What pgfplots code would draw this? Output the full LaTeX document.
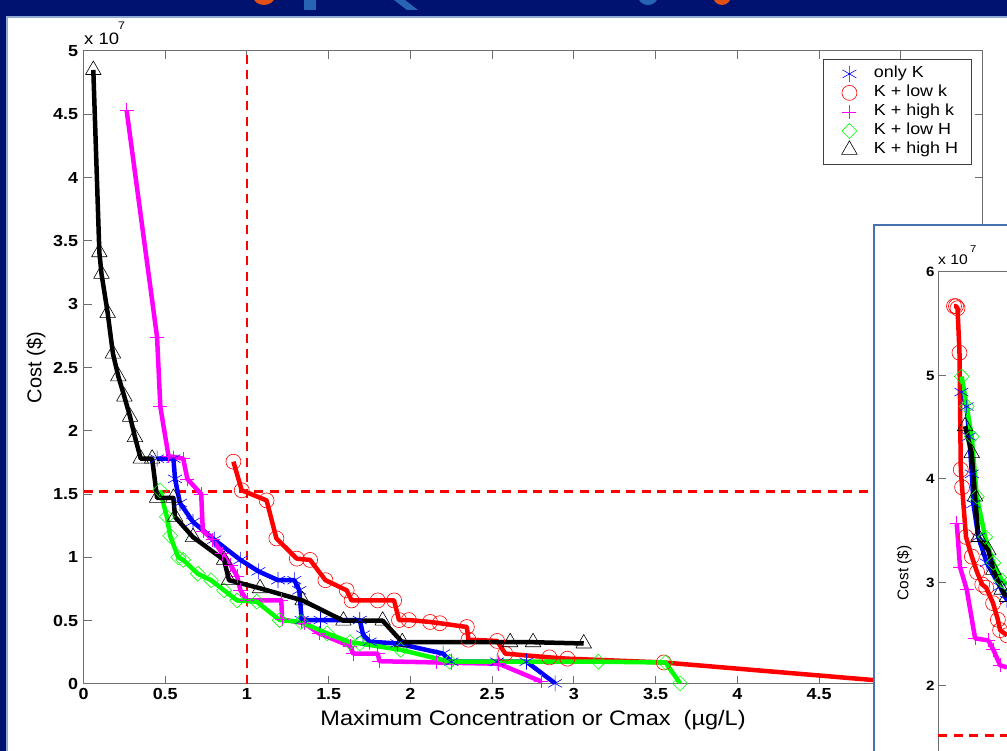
\documentclass[border=0pt]{standalone}
\usepackage{pgfplots}
\usepackage{pgfplotstable}
\pgfplotsset{compat=1.18}
\usepackage{fontspec}
\setmainfont{Liberation Sans}[FakeStretch=1.12]
\newfontfamily\plainsans{Liberation Sans}
\definecolor{navy}{RGB}{0,18,112}
\definecolor{panelblue}{RGB}{70,115,175}
\definecolor{mblue}{RGB}{0,0,255}
\definecolor{mred}{RGB}{255,0,0}
\definecolor{mmag}{RGB}{255,0,255}
\definecolor{mgreen}{RGB}{0,255,0}
\definecolor{axgray}{RGB}{110,110,110}
\definecolor{torange}{RGB}{225,80,20}
\definecolor{tblue}{RGB}{40,100,180}

% main chart data (cost in 1e7 $)
\pgfplotstableread{
x y
0.45 1.78
0.55 1.78
0.56 1.62
0.59 1.43
0.67 1.28
0.80 1.14
0.96 0.98
1.07 0.89
1.19 0.82
1.29 0.82
1.32 0.74
1.335 0.505
1.45 0.505
1.69 0.505
1.71 0.39
1.75 0.334
1.92 0.32
2.20 0.24
2.25 0.176
2.53 0.176
2.71 0.176
2.885 0.005
}\onlyK
\pgfplotstableread{
x y
0.917 1.756
0.968 1.53
1.12 1.45
1.18 1.15
1.305 0.99
1.386 0.98
1.48 0.82
1.61 0.74
1.64 0.66
1.80 0.66
1.90 0.66
1.93 0.505
1.99 0.505
2.12 0.49
2.18 0.48
2.345 0.45
2.355 0.35
2.53 0.34
2.58 0.24
2.85 0.21
2.96 0.20
3.55 0.17
5.12 0.00
}\lowk
\pgfplotstableread{
x y
0.264 4.53
0.45 2.74
0.47 2.19
0.52 1.80
0.61 1.78
0.635 1.62
0.72 1.50
0.73 1.21
0.79 1.14
0.85 1.03
0.90 0.94
0.94 0.85
0.96 0.74
1.00 0.66
1.21 0.66
1.215 0.51
1.35 0.48
1.44 0.40
1.63 0.30
1.65 0.24
1.80 0.24
1.81 0.18
2.16 0.17
2.54 0.16
2.80 0.02
}\highk
\pgfplotstableread{
x y
0.468 1.53
0.51 1.32
0.53 1.17
0.58 1.00
0.61 0.98
0.70 0.87
0.78 0.82
0.86 0.74
0.94 0.66
1.06 0.65
1.20 0.505
1.33 0.49
1.49 0.40
1.63 0.33
1.69 0.32
1.94 0.27
2.24 0.176
3.15 0.176
3.56 0.17
3.65 0.005
}\lowH
\pgfplotstableread{
x y
0.06 4.85
0.097 3.41
0.11 3.24
0.148 2.93
0.18 2.61
0.213 2.43
0.25 2.27
0.285 2.11
0.315 1.95
0.35 1.78
0.42 1.78
0.45 1.47
0.55 1.47
0.56 1.32
0.67 1.16
0.86 0.98
0.89 0.82
1.08 0.756
1.34 0.66
1.59 0.50
1.83 0.50
1.95 0.33
2.61 0.33
2.75 0.33
3.06 0.32
}\highH

% inset chart data
\pgfplotstableread{
x y
0.18 4.84
0.22 4.70
0.24 4.41
0.26 4.05
0.272 3.76
0.31 3.44
0.375 3.19
0.477 2.96
0.53 2.83
}\IonlyK
\pgfplotstableread{
x y
0.123 5.67
0.138 5.67
0.15 5.65
0.165 5.22
0.175 4.09
0.185 3.92
0.215 3.44
0.26 3.25
0.30 3.10
0.34 2.98
0.37 2.95
0.423 2.80
0.46 2.64
0.477 2.54
0.53 2.49
}\Ilowk
\pgfplotstableread{
x y
0.144 3.57
0.169 3.15
0.221 2.93
0.285 2.46
0.387 2.44
0.425 2.35
0.477 2.20
0.53 2.18
}\Ihighk
\pgfplotstableread{
x y
0.182 4.99
0.221 4.70
0.259 4.41
0.298 3.83
0.362 3.44
0.425 3.19
0.49 3.02
0.53 2.98
}\IlowH
\pgfplotstableread{
x y
0.208 4.51
0.259 4.25
0.285 3.83
0.31 3.44
0.387 3.31
0.425 3.12
0.49 2.93
0.53 2.86
}\IhighH

\pgfplotsset{
  matlab/.style={
    scale only axis,
    axis line style={axgray, line width=1pt},
    tick style={axgray, line width=1pt},
    major tick length=8pt,
    tick align=inside,
    /pgf/number format/assume math mode=true,
    clip marker paths=false,
  },
  ser/.style={line width=4.5pt, line join=round},
  sK/.style={mblue, mark=asterisk, mark size=8pt, mark options={line width=0.6pt, solid}},
  slk/.style={mred, mark=o, mark size=7.5pt, mark options={line width=0.6pt, solid}},
  shk/.style={mmag, mark=+, mark size=7pt, mark options={line width=0.6pt, solid}},
  slH/.style={mgreen, mark=square, mark size=5.3pt, mark options={rotate=45, line width=0.6pt, solid}},
  shH/.style={black, mark=triangle, mark size=9pt, mark options={line width=0.6pt, solid}},
  thr/.style={mred, line width=2.4pt, dash pattern=on 9pt off 6.5pt},
}

\begin{document}
\begin{tikzpicture}[x=1pt,y=1pt]
\useasboundingbox (0,0) rectangle (1007,751);
\fill[navy] (0,0) rectangle (1007,751);
% fragments of the slide title above the panel
\fill[torange] (264,755) ellipse (11 and 9);
\fill[tblue] (304,741) rectangle (316,751);
\fill[tblue] (394,751) -- (405,751) -- (418,741) -- (407,741) -- cycle;
\fill[tblue] (648,755) ellipse (10 and 9);
\fill[torange] (722,755) ellipse (9 and 9);
% white slide panel
\fill[white] (7,0) rectangle (1007,734);
\draw[panelblue!60, line width=2pt] (7,0) -- (7,734) -- (1007,734);

\begin{axis}[matlab,
  at={(83.5pt,67pt)}, anchor=south west,
  width=899.1pt, height=633pt,
  xmin=0, xmax=5.5, ymin=0, ymax=5,
  xtick={0,0.5,1,1.5,2,2.5,3,3.5,4,4.5,5,5.5},
  ytick={0,0.5,1,1.5,2,2.5,3,3.5,4,4.5,5},
  ticklabel style={font=\bfseries\fontsize{16}{16}\selectfont},
  yticklabel style={xshift=-2pt},
  xticklabel style={yshift=-1pt},
  xlabel={Maximum Concentration or Cmax\ \ (µg/L)},
  ylabel={Cost (\$)},
  xlabel style={at={(axis description cs:0.5,0)}, anchor=center, yshift=-36pt, font=\fontsize{21}{21}\selectfont},
  ylabel style={at={(axis description cs:-0.0528,0.5)}, anchor=center, font=\plainsans\fontsize{20}{20}\selectfont},
  legend style={at={(1,1)}, anchor=north east, xshift=-10.6pt, yshift=-8pt,
    draw=black!75, line width=0.8pt, inner xsep=3pt, inner ysep=5pt,
    font=\fontsize{16}{16}\selectfont,
    nodes={inner sep=1.5pt, text height=12pt, text depth=4pt},
    cells={anchor=west}},
  legend image code/.code={\path[draw=none,fill=none] (0pt,0pt) -- (46pt,0pt); \draw[#1] plot coordinates {(23pt,0pt)};},
]
\addlegendimage{only marks, sK}
\addlegendentry{only K}
\addlegendimage{only marks, slk}
\addlegendentry{K + low k}
\addlegendimage{only marks, shk}
\addlegendentry{K + high k}
\addlegendimage{only marks, slH}
\addlegendentry{K + low H}
\addlegendimage{only marks, shH}
\addlegendentry{K + high H\hspace*{9pt}}

\addplot[forget plot, thr] coordinates {(1,0) (1,5)};
\addplot[forget plot, thr] coordinates {(0,1.52) (5.5,1.52)};

\addplot[forget plot, ser, sK] table {\onlyK};
\addplot[forget plot, ser, slk] table {\lowk};
\addplot[forget plot, ser, shk] table {\highk};
\addplot[forget plot, ser, slH] table {\lowH};
\addplot[forget plot, ser, shH] table {\highH};
\end{axis}
\node[anchor=base west, font=\fontsize{16.5}{16.5}\selectfont, inner sep=0pt] at (84,706) {x 10};
\node[anchor=base west, font=\fontsize{11}{11}\selectfont, inner sep=0pt] at (118,721) {7};

% inset panel (second chart), cut by the picture's edges
\fill[white] (874,0) rectangle (1007,526);
\draw[panelblue, line width=2.5pt] (874,0) -- (874,526) -- (1007,526);
\begin{axis}[matlab,
  at={(938pt,0pt)}, anchor=south west,
  width=69pt, height=479pt,
  xmin=0, xmax=0.53, ymin=1.372, ymax=6,
  axis x line*=top, axis y line*=left,
  axis line style={axgray, line width=1pt, -},
  xtick=\empty,
  ytick={2,3,4,5,6},
  ticklabel style={font=\bfseries\fontsize{13.5}{13.5}\selectfont},
  ylabel={Cost (\$)},
  ylabel style={at={(axis description cs:-0.49,0.372)}, anchor=center, font=\plainsans\fontsize{15.5}{15.5}\selectfont},
]
\addplot[thr] coordinates {(0,1.52) (0.53,1.52)};
\addplot[ser, sK] table {\IonlyK};
\addplot[ser, slk] table {\Ilowk};
\addplot[ser, shk] table {\Ihighk};
\addplot[ser, slH] table {\IlowH};
\addplot[ser, shH] table {\IhighH};
\end{axis}
\node[anchor=base west, font=\fontsize{14}{14}\selectfont, inner sep=0pt] at (938,486) {x 10};
\node[anchor=base west, font=\fontsize{10}{10}\selectfont, inner sep=0pt] at (970,498) {7};
\end{tikzpicture}
\end{document}
